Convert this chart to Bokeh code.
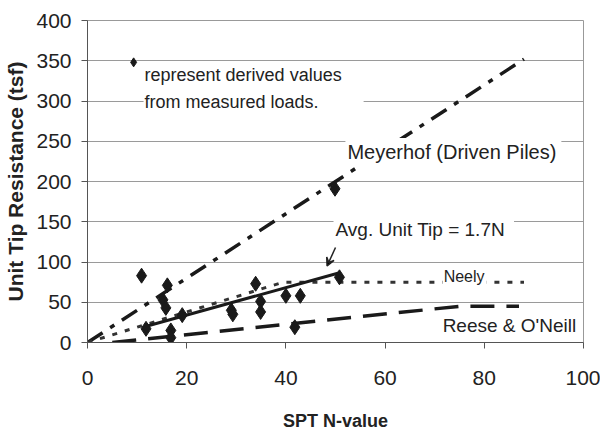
from bokeh.plotting import figure
from bokeh.models import Label, Arrow, VeeHead, Range1d, FixedTicker
from bokeh.embed import file_html
from bokeh.resources import INLINE

# Measured (derived) unit tip resistance
spt_n = [10.9, 16.1, 15.2, 15.8, 11.8, 16.8, 16.8, 19.1, 29.0, 29.3, 33.9, 34.9, 34.9, 40.0, 42.9, 41.8, 49.9, 50.8]
tip_q = [83, 71, 53, 43, 17, 15, 6, 34, 40, 35, 73, 51, 38, 58, 58, 19, 191, 81]

# Design curves
meyerhof_n = [0, 88]
meyerhof_q = [0, 352]
neely_n = [0, 39.5, 88]
neely_q = [0, 75, 75]
reese_n = [5, 75, 87]
reese_q = [0, 45, 45]
avg_n = [11.5, 51]
avg_q = [19.5, 87]

x_ticks = [0, 20, 40, 60, 80, 100]
y_ticks = [0, 50, 100, 150, 200, 250, 300, 350, 400]

FONT = "Liberation Sans"

p = figure(width=600, height=437, output_backend="svg", toolbar_location=None,
           x_range=Range1d(0, 100), y_range=Range1d(0, 400),
           min_border_left=87, min_border_right=17, min_border_top=20, min_border_bottom=95)
p.background_fill_color = "white"
p.border_fill_color = "white"
p.outline_line_color = "#999999"

p.xgrid.grid_line_color = None
p.ygrid.grid_line_color = "#9a9a9a"
p.ygrid.grid_line_width = 1

p.xaxis.ticker = FixedTicker(ticks=x_ticks)
p.yaxis.ticker = FixedTicker(ticks=y_ticks)
for ax in (p.xaxis[0], p.yaxis[0]):
    ax.axis_line_color = "#555555"
    ax.major_tick_line_color = "#555555"
    ax.minor_tick_line_color = None
    ax.major_tick_in = 0
    ax.major_tick_out = 6
    ax.major_label_text_font = FONT
    ax.major_label_text_font_size = "21px"
    ax.major_label_text_color = "#222222"
    ax.axis_label_text_font = FONT
    ax.axis_label_text_font_style = "bold"
    ax.axis_label_text_color = "#222222"

p.xaxis.major_label_standoff = 22
p.yaxis.major_label_standoff = 10
p.xaxis.axis_label = "SPT N-value"
p.xaxis.axis_label_text_font_size = "18px"
p.xaxis.axis_label_standoff = 23
p.yaxis.axis_label = "Unit Tip Resistance (tsf)"
p.yaxis.axis_label_text_font_size = "21px"
p.yaxis.axis_label_standoff = 6

# Curves
p.line(meyerhof_n, meyerhof_q, line_color="#1a1a1a", line_width=3.5, line_dash="18 9 5 9")
p.line(neely_n, neely_q, line_color="#333333", line_width=3, line_dash="5 8")
p.line(reese_n, reese_q, line_color="#1a1a1a", line_width=3.5, line_dash="24 12")
p.line(avg_n, avg_q, line_color="#1a1a1a", line_width=3)

# Data points
p.scatter(spt_n, tip_q, marker="diamond", size=15, fill_color="#1a1a1a", line_color="#1a1a1a")

lbl_style = dict(text_font=FONT, text_font_size="18px", text_color="#222222",
                 background_fill_color="white", text_baseline="alphabetic")

# Legend note
p.scatter([9.3], [348], marker="diamond", size=9, fill_color="#1a1a1a", line_color="#1a1a1a")
p.add_layout(Label(x=11.3, y=332, text="represent derived values", padding=(1, 6, 3, 4), **lbl_style))
p.add_layout(Label(x=11.3, y=298, text="from measured loads.", padding=(1, 45, 3, 4), **lbl_style))

p.add_layout(Label(x=52.0, y=236, text="Meyerhof (Driven Piles)",
                   padding=(2, 5, 3, 4), **{**lbl_style, "text_font_size": "20px"}))
p.add_layout(Label(x=49.6, y=139, text="Avg. Unit Tip = 1.7N", padding=(2, 9, 3, 5),
                   **{**lbl_style, "text_font_size": "19px"}))
p.add_layout(Label(x=71.6, y=83, text="Neely", padding=(1, 2, 3, 2),
                   **{**lbl_style, "text_font_size": "16px"}))
p.add_layout(Label(x=71.4, y=21, text="Reese & O'Neill", padding=(1, 2, 2, 2),
                   **{**lbl_style, "text_font_size": "19px"}))

p.add_layout(Arrow(x_start=50.0, y_start=118, x_end=48.3, y_end=95,
                   line_color="#222222", line_width=1.5,
                   end=VeeHead(size=8, line_color="#222222", line_width=1.5)))

open("out.html", "w").write(file_html(p, INLINE))
